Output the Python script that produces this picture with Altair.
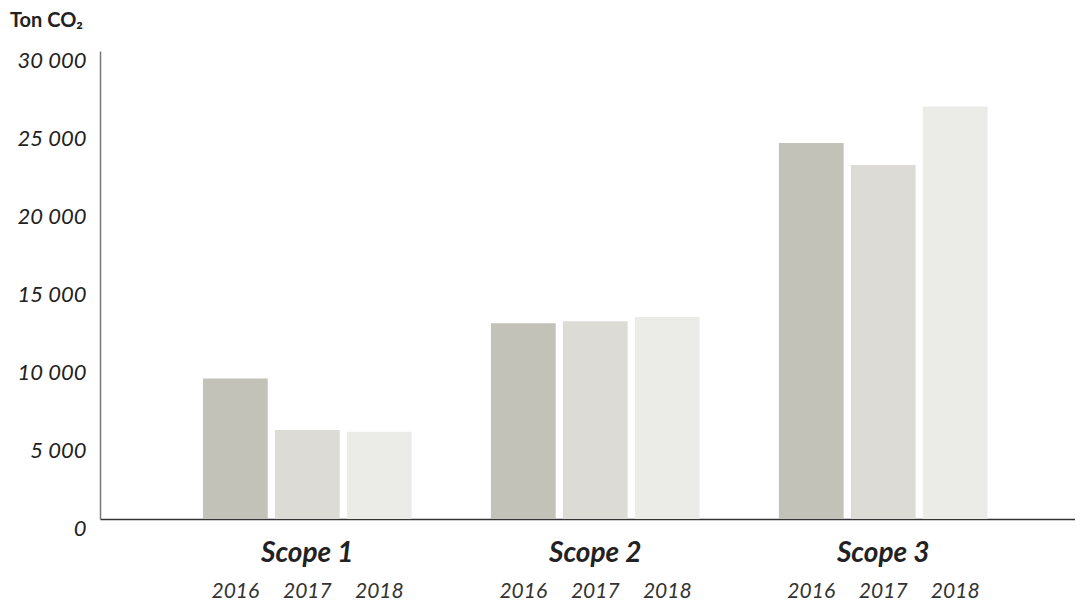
import altair as alt
import pandas as pd

scopes = ["Scope 1", "Scope 2", "Scope 3"]
years = ["2016", "2017", "2018"]
values_2016 = [9000, 12550, 24100]
values_2017 = [5700, 12680, 22700]
values_2018 = [5600, 12950, 26450]
colors = ["#c2c2b9", "#dcdbd6", "#ebebe7"]
unit_title = ["Ton CO₂"]

rows = []
for i, s in enumerate(scopes):
    for y, vals in zip(years, [values_2016, values_2017, values_2018]):
        rows.append({"scope": s, "year": y, "value": vals[i]})
df = pd.DataFrame(rows)

FONT = "Lato"
H = 468
W = 975

x_enc = alt.X(
    "scope:N",
    sort=scopes,
    scale=alt.Scale(paddingInner=0, paddingOuter=0.193, align=0.57),
    axis=alt.Axis(
        title=None, labelAngle=0, ticks=False, labelFontSize=28,
        labelFontWeight="bold", labelFontStyle="italic", labelFont=FONT,
        labelColor="#222", labelPadding=20, domainColor="#333", domainWidth=1.5,
    ),
)
xoff = alt.XOffset("year:N", sort=years, scale=alt.Scale(paddingInner=0.1, paddingOuter=0.55))

base = alt.Chart(df)

bars = base.mark_bar().encode(
    x=x_enc,
    xOffset=xoff,
    y=alt.Y(
        "value:Q",
        scale=alt.Scale(domain=[0, 30000], nice=False),
        axis=alt.Axis(
            title=None, values=[0, 5000, 10000, 15000, 20000, 25000, 30000],
            ticks=False, grid=False, labelFontSize=22, labelFontStyle="italic",
            labelFont=FONT, labelColor="#222", labelPadding=14, labelOffset=9,
            labelExpr="replace(format(datum.value, ','), ',', ' ')",
            domainColor="#777", domainWidth=1.5,
        ),
    ),
    color=alt.Color("year:N", scale=alt.Scale(domain=years, range=colors), legend=None),
)

year_labels = base.mark_text(
    font=FONT, fontSize=21, fontStyle="italic", color="#333", baseline="middle"
).encode(
    x=alt.X("scope:N", sort=scopes),
    xOffset=alt.XOffset("year:N", sort=years),
    y=alt.value(H + 73),
    text="year:N",
)

title_text = alt.Chart(pd.DataFrame({"t": unit_title})).mark_text(
    font=FONT, fontSize=20, fontWeight="bold", color="#222",
    align="left", baseline="middle",
).encode(x=alt.value(-90), y=alt.value(-30), text="t:N")

chart = (
    alt.layer(bars, year_labels, title_text)
    .properties(
        width=W,
        height=H,
        autosize=alt.AutoSizeParams(type="none"),
        padding={"left": 92, "top": 43, "right": 0, "bottom": 86},
    )
    .configure_view(stroke=None)
)

chart.save("out.html", embed_options={"renderer": "svg", "actions": False})
